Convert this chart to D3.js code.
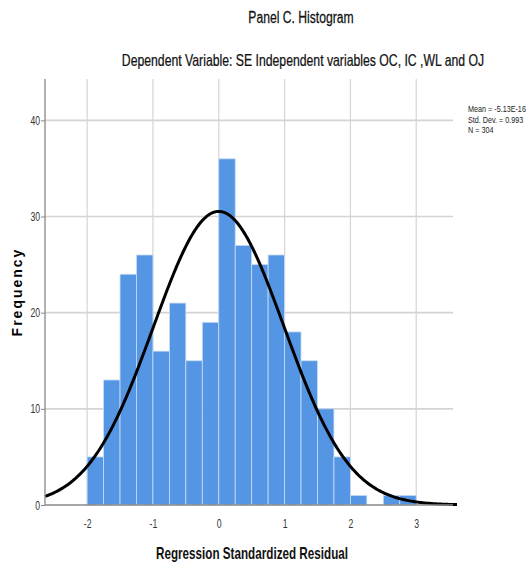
<!DOCTYPE html>
<html>
<head>
<meta charset="utf-8">
<script src="https://cdn.jsdelivr.net/npm/d3@7"></script>
<style>
  body { margin: 0; background: #fff; }
  svg text { font-family: "Liberation Sans", Arial, sans-serif; }
</style>
</head>
<body>
<div id="chart-area"></div>
<script>
// histogram bins (lower edges) and counts
const binStarts = [-2, -1.75, -1.5, -1.25, -1, -0.75, -0.5, -0.25, 0, 0.25, 0.5, 0.75, 1, 1.25, 1.5, 1.75, 2, 2.25, 2.5, 2.75]
const counts = [5, 13, 24, 26, 16, 21, 15, 19, 36, 27, 25, 26, 18, 15, 10, 5, 1, 0, 1, 1]
const binWidth = 0.25
const xTicks = [-2, -1, 0, 1, 2, 3]
const yTicks = [0, 10, 20, 30, 40]
const stats = { mean: -5.13e-16, sd: 0.993, n: 304 }
const legendLines = ["Mean = -5.13E-16", "Std. Dev. = 0.993", "N = 304"]

const W = 528, H = 570
const MARGIN = { LEFT: 45, RIGHT: 70, TOP: 79, BOTTOM: 65 }
const WIDTH = W - MARGIN.LEFT - MARGIN.RIGHT
const HEIGHT = H - MARGIN.TOP - MARGIN.BOTTOM

const svg = d3.select("#chart-area").append("svg")
      .attr("width", W)
      .attr("height", H)

// condensed text (no narrow font installed, so squeeze horizontally)
function narrowText(parent, x, y, txt, size, sx, anchor, weight) {
      return parent.append("text")
            .attr("transform", `translate(${x}, ${y}) scale(${sx}, 1)`)
            .attr("text-anchor", anchor || "start")
            .attr("font-size", size)
            .attr("font-weight", weight || "normal")
            .attr("fill", "#111")
            .text(txt)
}

// titles
narrowText(svg, 301, 23, "Panel C. Histogram", "16px", 0.76, "middle").attr("stroke", "#111").attr("stroke-width", 0.25)
narrowText(svg, 303, 66, "Dependent Variable: SE Independent variables OC, IC ,WL and OJ", "16px", 0.765, "middle").attr("stroke", "#111").attr("stroke-width", 0.25)

const g = svg.append("g")
      .attr("transform", `translate(${MARGIN.LEFT}, ${MARGIN.TOP})`)

const x = d3.scaleLinear()
      .domain([-2.64, 3.635])
      .range([0, WIDTH])

const y = d3.scaleLinear()
      .domain([0, 44.3])
      .range([HEIGHT, 0])

// gridlines
g.selectAll(".hgrid").data(yTicks.filter(d => d > 0)).enter().append("line")
      .attr("x1", 0).attr("x2", x(3.56))
      .attr("y1", d => y(d)).attr("y2", d => y(d))
      .attr("stroke", "#d4d4d4").attr("stroke-width", 1.6)
g.selectAll(".vgrid").data(xTicks).enter().append("line")
      .attr("x1", d => x(d)).attr("x2", d => x(d))
      .attr("y1", 0).attr("y2", HEIGHT)
      .attr("stroke", "#d4d4d4").attr("stroke-width", 1.2)

// bars
g.selectAll("rect").data(counts).enter().append("rect")
      .attr("x", (d, i) => x(binStarts[i]))
      .attr("y", d => y(d))
      .attr("width", x(binWidth) - x(0))
      .attr("height", d => HEIGHT - y(d))
      .attr("fill", "#5596e4")
      .attr("stroke", "#c9dcf5")
      .attr("stroke-width", 0.8)

// fitted normal curve
const scale = stats.n * binWidth
const pdf = v => Math.exp(-0.5 * Math.pow((v - stats.mean) / stats.sd, 2)) / (stats.sd * Math.sqrt(2 * Math.PI))
const curveX = d3.range(x.domain()[0], x.domain()[1] + 0.001, 0.02)
g.append("path")
      .datum(curveX)
      .attr("fill", "none")
      .attr("stroke", "#000")
      .attr("stroke-width", 3)
      .attr("d", d3.line().x(d => x(d)).y(d => y(scale * pdf(d))))

// axes
const yAxisCall = d3.axisLeft(y).tickValues(yTicks).tickSize(4).tickFormat(d => String(d))
const yaxis = g.append("g").call(yAxisCall)
yaxis.select(".domain").attr("d", `M0,0V${HEIGHT}`).attr("stroke", "#888").attr("stroke-width", 1.3)
yaxis.selectAll(".tick line").attr("stroke", "#888")
yaxis.selectAll(".tick text")
      .attr("x", null).attr("dy", null)
      .attr("transform", "translate(-5, 4) scale(0.72, 1)")
      .attr("font-size", "12px").attr("fill", "#333")

const xAxisCall = d3.axisBottom(x).tickValues(xTicks).tickSize(0).tickFormat(d => String(d))
const xaxis = g.append("g")
      .attr("transform", `translate(0, ${HEIGHT})`)
      .call(xAxisCall)
xaxis.select(".domain").attr("d", `M0,0H${x(3.56)}`).attr("stroke", "#888").attr("stroke-width", 1.3)
xaxis.selectAll(".tick text")
      .attr("y", null).attr("dy", null)
      .attr("transform", "translate(0, 23) scale(0.72, 1)")
      .attr("font-size", "12px").attr("fill", "#333")

// axis labels
g.append("text")
      .attr("x", -HEIGHT / 2).attr("y", -23)
      .attr("transform", "rotate(-90)")
      .attr("text-anchor", "middle")
      .attr("font-size", "14px")
      .attr("font-weight", "bold")
      .attr("letter-spacing", "2px")
      .text("Frequency")
narrowText(svg, 252, 559, "Regression Standardized Residual", "16px", 0.73, "middle", "bold")

// legend
legendLines.forEach((t, i) => narrowText(svg, 468, 112 + i * 10.5, t, "9.5px", 0.76).attr("fill", "#222"))
</script>
</body>
</html>
